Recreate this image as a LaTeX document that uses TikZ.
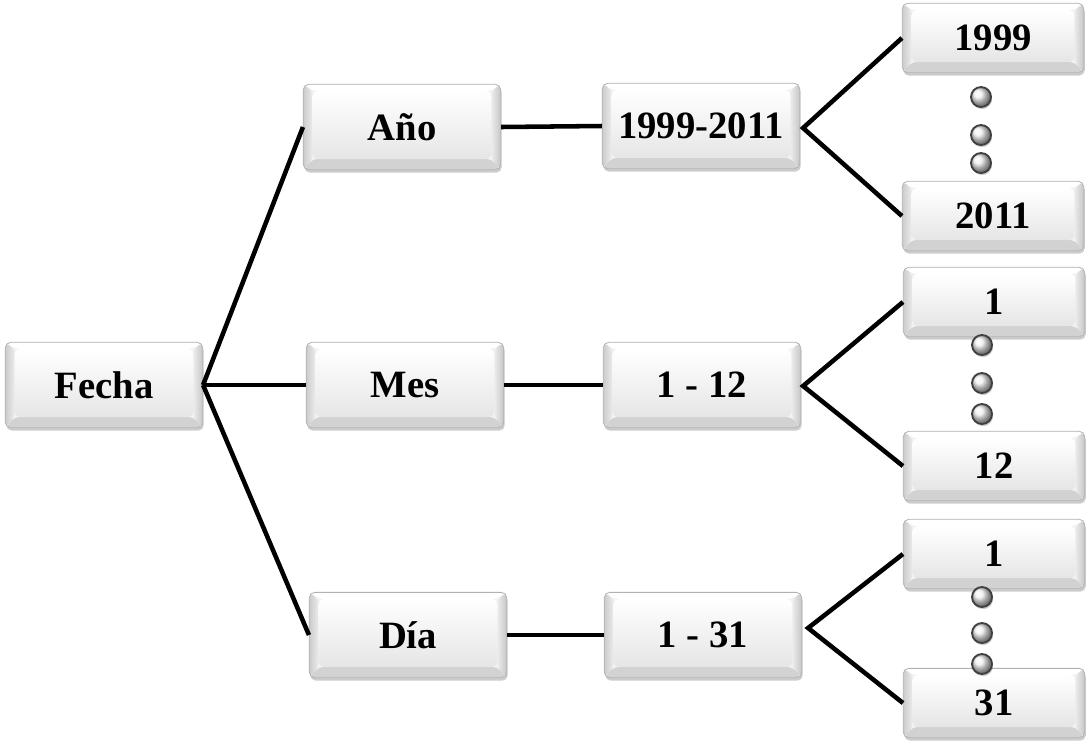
\documentclass[tikz,border=0pt]{standalone}
\usepackage{fontspec}
\setmainfont{Liberation Serif}
\usetikzlibrary{shadows,calc}
\begin{document}
\begin{tikzpicture}[x=0.75pt,y=-0.75pt,
  bevel/.style={path picture={
    \path (path picture bounding box.north west) coordinate (bNW)
          (path picture bounding box.south east) coordinate (bSE);
    \path (bNW) ++(7pt,-5pt) coordinate (iNW);
    \path (bSE) ++(-7pt,8pt) coordinate (iSE);
    \fill[white] (bNW) -- (bNW -| bSE) -- (iNW -| iSE) -- (iNW) -- cycle;
    \shade[left color=gray!40, right color=gray!15] (bNW) -- (iNW) -- (iNW |- iSE) -- (bNW |- bSE) -- cycle;
    \shade[left color=gray!15, right color=gray!45] (bNW -| bSE) -- (bSE) -- (iSE) -- (iNW -| iSE) -- cycle;
    \fill[gray!35] (bNW |- bSE) -- (iNW |- iSE) -- (iSE) -- (bSE) -- cycle;
    \shade[top color=white, bottom color=gray!20] (iNW) rectangle (iSE);
  }},
  box/.style={draw=gray!60, line width=0.6pt, rounded corners=4pt, inner sep=0pt,
    fill=gray!10, bevel,
    drop shadow={shadow xshift=0.8pt, shadow yshift=-2.2pt, opacity=0.4},
    font=\fontsize{29}{32}\selectfont\bfseries, text=black},
  mainbox/.style={box, minimum width=148pt, minimum height=64pt},
  leafbox/.style={box, minimum width=136pt, minimum height=52pt},
  dot/.style={circle, draw=gray!50!black, line width=1.4pt, minimum size=15pt, inner sep=0pt,
    ball color=gray!12, drop shadow={shadow xshift=0.8pt, shadow yshift=-1.6pt, opacity=0.4}},
  link/.style={line width=3.4pt, black}
]
\useasboundingbox (0,0) rectangle (1087,744);

% main column
\node[mainbox] (fecha) at (104,385) {Fecha};
\node[mainbox] (anio) at (402,127) {Año};
\node[mainbox] (mes) at (405,385) {Mes};
\node[mainbox] (dia) at (408,635) {Día};
\node[mainbox] (rango1) at (701,126) {1999-2011};
\node[mainbox] (rango2) at (702,385) {1 - 12};
\node[mainbox] (rango3) at (703,635) {1 - 31};

% leaves
\node[leafbox] (y1) at (993,38) {1999};
\node[leafbox] (y2) at (993,216) {2011};
\node[leafbox] (m1) at (994,302) {1};
\node[leafbox] (m2) at (994,466) {12};
\node[leafbox] (d1) at (994,554) {1};
\node[leafbox] (d2) at (994,703) {31};

% dots
\node[dot] (ya) at (981,97) {};
\node[dot] (yb) at (981,135) {};
\node[dot] (yc) at (981,163) {};
\node[dot] (ma) at (982,345) {};
\node[dot] (mb) at (982,383) {};
\node[dot] (mc) at (982,414) {};
\node[dot] (da) at (982,597) {};
\node[dot] (db) at (982,633) {};
\node[dot] (dc) at (982,664) {};

% apex coordinates
\coordinate (apy) at ($(rango1.east)+(3,2)$);
\coordinate (apm) at ($(rango2.east)+(2,1)$);
\coordinate (apd) at ($(rango3.east)+(6,-7)$);

% connectors
\draw[link] (fecha.east) -- (anio.west);
\draw[link] (fecha.east) -- (mes.west);
\draw[link] (fecha.east) -- (dia.west);
\draw[link] (anio.east) -- (rango1.west);
\draw[link] (mes.east) -- (rango2.west);
\draw[link] (dia.east) -- (rango3.west);
\draw[link] (y1.west) -- (apy) -- (y2.west);
\draw[link] (m1.west) -- (apm) -- (m2.west);
\draw[link] (d1.west) -- (apd) -- (d2.west);
\end{tikzpicture}
\end{document}
